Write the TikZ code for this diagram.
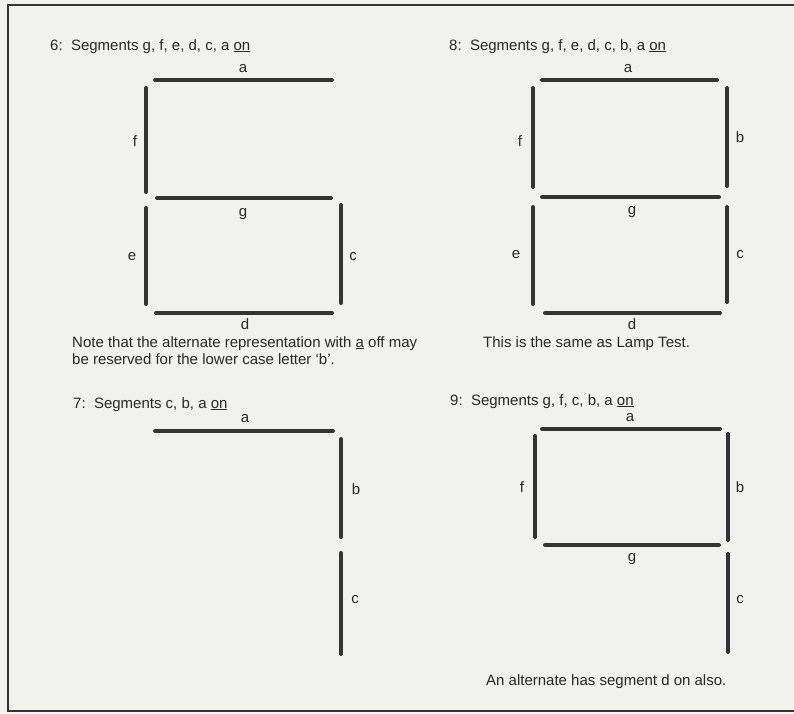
\documentclass[tikz,border=0pt]{standalone}
\usepackage{fontspec}
\setmainfont{Liberation Sans}
\definecolor{bg}{RGB}{241,241,239}
\definecolor{ink}{RGB}{52,52,52}
\definecolor{txt}{RGB}{40,40,40}
\tikzset{
  seg/.style={line width=4pt, line cap=round, draw=ink},
  frame/.style={line width=2pt, draw=ink},
  lbl/.style={inner sep=0pt, text=txt, font=\fontsize{15}{17}\selectfont},
  body/.style={inner sep=0pt, anchor=base west, text=txt, font=\fontsize{15}{17}\selectfont},
}
\begin{document}
\begin{tikzpicture}[x=1pt,y=-1pt]
\useasboundingbox (0,0) rectangle (794,713);
\fill[bg] (0,0) rectangle (794,713);
% frame
\draw[frame] (794,5) -- (8,5) -- (8,711) -- (794,711);

% ---- Panel 6
\node[body] (t6) at (50,50) {6:\ \ Segments g, f, e, d, c, a \underline{on}};
\draw[seg] (155,80) -- (332,80);
\draw[seg] (146,88) -- (146,192);
\draw[seg] (157,198) -- (331,198);
\draw[seg] (146,208) -- (146,304);
\draw[seg] (341,205) -- (341,303);
\draw[seg] (156,313) -- (332,313);
\node[lbl] (a6) at (243,69) {a};
\node[lbl] (f6) at (135,141) {f};
\node[lbl] (g6) at (243,214) {g};
\node[lbl] (e6) at (132,257) {e};
\node[lbl] (c6) at (353,257) {c};
\node[lbl] (d6) at (245,324) {d};
\node[body] (n6a) at (72,347) {Note that the alternate representation with \underline{a} off may};
\node[body] (n6b) at (72,364) {be reserved for the lower case letter `b'.};

% ---- Panel 8
\node[body] (t8) at (449,50) {8:\ \ Segments g, f, e, d, c, b, a \underline{on}};
\draw[seg] (542,80) -- (717,80);
\draw[seg] (533,88) -- (533,187);
\draw[seg] (727,88) -- (727,186);
\draw[seg] (542,197) -- (719,197);
\draw[seg] (533,207) -- (533,304);
\draw[seg] (727,207) -- (727,302);
\draw[seg] (545,313) -- (720,313);
\node[lbl] (a8) at (628,69) {a};
\node[lbl] (f8) at (520,141) {f};
\node[lbl] (b8) at (740,137) {b};
\node[lbl] (g8) at (632,212) {g};
\node[lbl] (e8) at (516,255) {e};
\node[lbl] (c8) at (740,255) {c};
\node[lbl] (d8) at (632,324) {d};
\node[body] (n8) at (483,347) {This is the same as Lamp Test.};

% ---- Panel 7
\node[body] (t7) at (73,408) {7:\ \ Segments c, b, a \underline{on}};
\draw[seg] (155,431) -- (333,431);
\draw[seg] (341,439) -- (341,537);
\draw[seg] (341,553) -- (341,654);
\node[lbl] (a7) at (245,419) {a};
\node[lbl] (b7) at (356,489) {b};
\node[lbl] (c7) at (355,600) {c};

% ---- Panel 9
\node[body] (t9) at (450,405) {9:\ \ Segments g, f, c, b, a \underline{on}};
\draw[seg] (542,429) -- (720,429);
\draw[seg] (535,436) -- (535,537);
\draw[seg] (728,434) -- (728,540);
\draw[seg] (545,545) -- (719,545);
\draw[seg] (728,554) -- (728,652);
\node[lbl] (a9) at (630,418) {a};
\node[lbl] (f9) at (522,487) {f};
\node[lbl] (b9) at (740,487) {b};
\node[lbl] (g9) at (632,559) {g};
\node[lbl] (c9) at (740,600) {c};
\node[body] (n9) at (486,685) {An alternate has segment d on also.};
\end{tikzpicture}
\end{document}
